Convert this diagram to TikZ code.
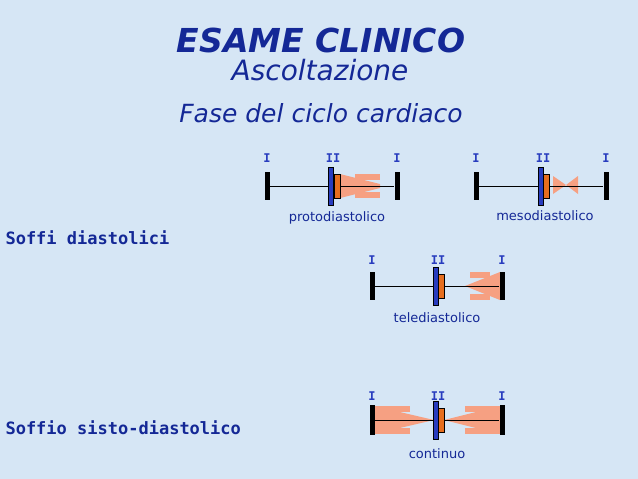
\documentclass[tikz,border=0pt]{standalone}
\usepackage{fontspec}
\setmainfont{DejaVu Sans}
\setmonofont{DejaVu Sans Mono}
\usetikzlibrary{positioning}
\definecolor{bgblue}{RGB}{214,230,245}
\definecolor{txtblue}{RGB}{20,40,150}
\definecolor{sblue}{RGB}{40,60,190}
\definecolor{salmon}{RGB}{246,160,130}
\definecolor{orng}{RGB}{230,110,30}
\begin{document}
\begin{tikzpicture}[
        x=1pt, y=-1pt,
        sbar/.style = {draw=none, fill=black, minimum width=5pt, minimum height=#1, inner sep=0pt},
        sbar/.default = 28pt,
        bbar/.style = {draw=black, line width=0.4pt, fill=sblue, minimum width=5pt, minimum height=38pt, inner sep=0pt},
        obox/.style = {draw=black, line width=0.4pt, fill=orng, minimum width=6pt, minimum height=24pt, inner sep=0pt},
        tone/.style = {font=\fontsize{12}{14}\selectfont\ttfamily\bfseries, text=sblue},
        phase/.style = {font=\fontsize{13}{15}\selectfont, text=txtblue},
        murmur/.style = {fill=salmon, draw=none},
        head/.style = {font=\fontsize{17}{19}\selectfont\ttfamily\bfseries, text=txtblue, anchor=west}
            ]
            \fill[bgblue] (0,0) rectangle (638,479);
            
            % titoli
            \node[font=\fontsize{33}{36}\selectfont\bfseries\itshape, text=txtblue] (t1) at (321,40) {ESAME CLINICO};
            \node[font=\fontsize{28}{32}\selectfont\itshape, text=txtblue] (t2) at (320,70) {Ascoltazione};
            \node[font=\fontsize{25}{28}\selectfont\itshape, text=txtblue] (t3) at (321,113) {Fase del ciclo cardiaco};
            \node[head] (h1) at (2,238) {Soffi diastolici};
            \node[head] (h2) at (2,428) {Soffio sisto-diastolico};
            
            % protodiastolico
            \fill[murmur] (340,174) -- (380,184) -- (380,188) -- (340,198) -- cycle;
            \fill[murmur] (355,174) rectangle (380,180);
            \fill[murmur] (355,192) rectangle (380,198);
            \node[sbar] (a1) at (267,186) {};
            \node[bbar] (a2) at (331,186) {};
            \node[obox] (a3) at (337,186) {};
            \node[sbar] (a4) at (397,186) {};
            \draw (a1) -- (a2);
            \draw (a3) -- (a4);
            \node[tone] at (267,158) {I};
            \node[tone] at (333,158) {II};
            \node[tone] at (397,158) {I};
            \node[phase] at (337,218) {protodiastolico};
            
            % mesodiastolico
            \fill[murmur] (553,176) -- (566,185) -- (553,194) -- cycle;
            \fill[murmur] (578,176) -- (566,185) -- (578,194) -- cycle;
            \node[sbar] (b1) at (476,186) {};
            \node[bbar] (b2) at (541,186) {};
            \node[obox] (b3) at (546,186) {};
            \node[sbar] (b4) at (606,186) {};
            \draw (b1) -- (b2);
            \draw (b3) -- (b4);
            \node[tone] at (476,158) {I};
            \node[tone] at (543,158) {II};
            \node[tone] at (606,158) {I};
            \node[phase] at (545,216) {mesodiastolico};
            
            % telediastolico
            \fill[murmur] (465,286) -- (500,272) -- (500,300) -- cycle;
            \fill[murmur] (470,272) rectangle (490,278);
            \fill[murmur] (470,294) rectangle (490,300);
            \node[sbar] (c1) at (372,286) {};
            \node[bbar] (c2) at (436,286) {};
            \node[obox] (c3) at (441,286) {};
            \node[sbar] (c4) at (502,286) {};
            \draw (c1) -- (c2);
            \draw (c3) -- (c4);
            \node[tone] at (372,260) {I};
            \node[tone] at (438,260) {II};
            \node[tone] at (502,260) {I};
            \node[phase] at (437,318) {telediastolico};
            
            % continuo
            \fill[murmur] (374,406) -- (434,420) -- (374,434) -- cycle;
            \fill[murmur] (374,406) rectangle (410,412);
            \fill[murmur] (374,428) rectangle (410,434);
            \fill[murmur] (444,420) -- (500,406) -- (500,434) -- cycle;
            \fill[murmur] (465,406) rectangle (500,412);
            \fill[murmur] (465,428) rectangle (500,434);
            \node[sbar=30pt] (d1) at (372,420) {};
            \node[bbar] (d2) at (436,420) {};
            \node[obox] (d3) at (441,420) {};
            \node[sbar=30pt] (d4) at (502,420) {};
            \draw (d1) -- (d2);
            \draw (d3) -- (d4);
            \node[tone] at (372,396) {I};
            \node[tone] at (438,396) {II};
            \node[tone] at (502,396) {I};
            \node[phase] at (437,454) {continuo};
            
        \end{tikzpicture}
\end{document}
